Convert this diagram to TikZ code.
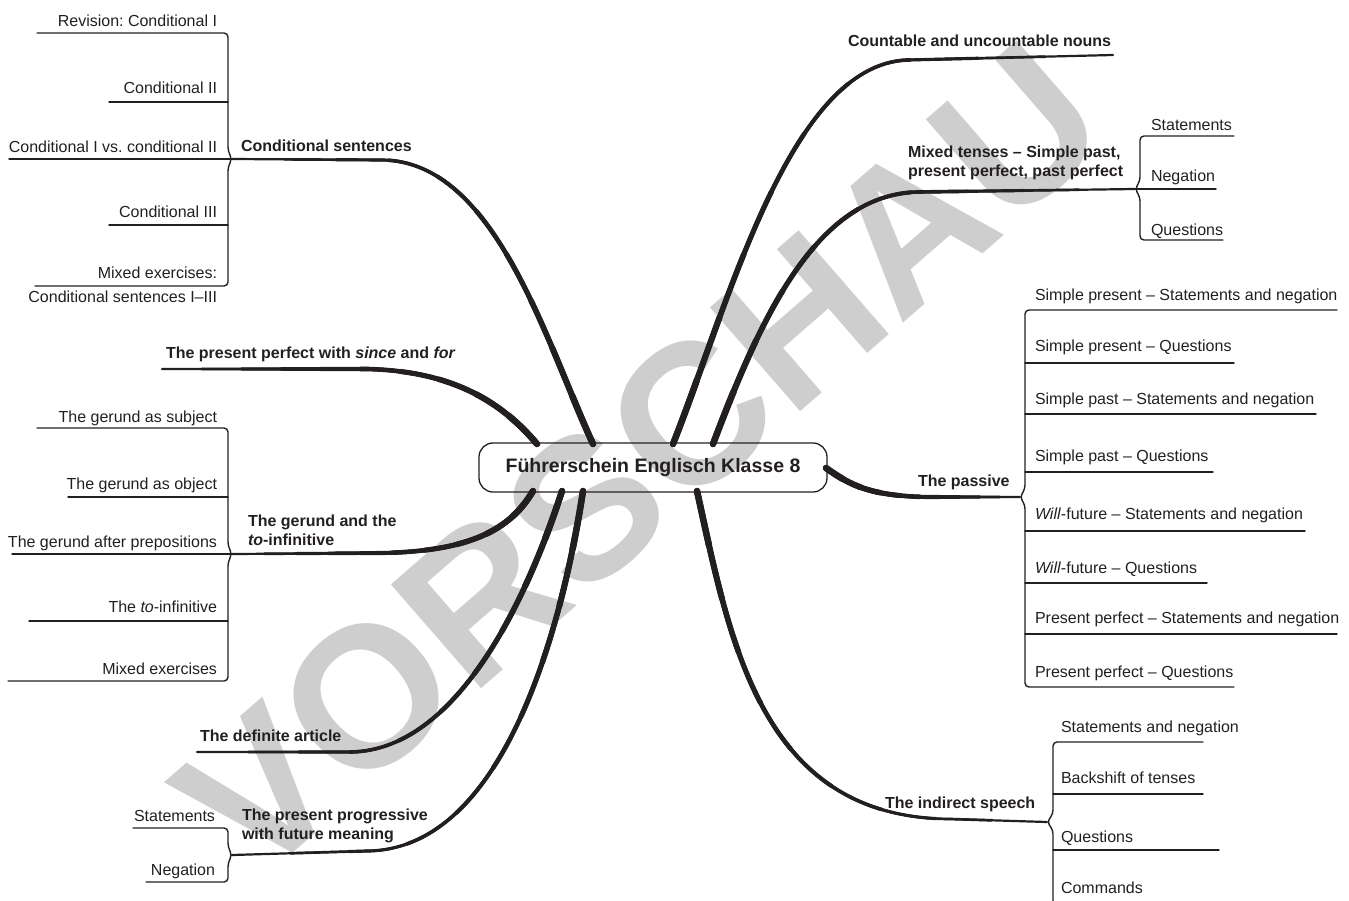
\documentclass[tikz,border=0pt]{standalone}
\usepackage{fontspec}
\setmainfont{Liberation Sans}
\frenchspacing
\usetikzlibrary{decorations.markings}
\definecolor{ink}{RGB}{35,31,32}
\definecolor{wmgray}{RGB}{206,206,206}
\newcommand{\branchline}[1]{%
  \path[decorate, decoration={markings, mark=at position 0.5 with {\xdef\blen{\pgfdecoratedpathlength}}}] #1;
  \foreach \k in {0,...,9}{%
    \pgfmathsetmacro\bw{2.2+\k*0.48}%
    \pgfmathsetmacro\bl{\blen*(1-\k/10)}%
    \draw[ink, line cap=round, line width=\bw pt, dash pattern=on \bl pt off 10000pt] #1;
  }%
}
\begin{document}
\begin{tikzpicture}[x=1pt,y=-1pt,
  every node/.style={inner sep=0pt, outer sep=0pt, text=ink, font=\fontsize{16}{19}\selectfont},
  topic/.style={font=\fontsize{16}{19}\selectfont\bfseries, align=left},
  sub/.style={line width=1.4pt, draw=ink, line cap=round},
  brace/.style={sub, rounded corners=4pt}
]
\useasboundingbox (0,0) rectangle (1349,900);

% watermark
\node[font=\fontsize{200}{200}\selectfont\bfseries, text=wmgray, rotate=41] (wm) at (640,460) {VORSCHAU};

% hub
\node[draw=ink, line width=1.3pt, rounded corners=14pt, minimum width=348pt, minimum height=49pt,
      font=\fontsize{19.5}{23}\selectfont\bfseries] (hub) at (653,467.5) {Führerschein Englisch Klasse 8};

% branch start points on the hub border and tips
\coordinate (sCond) at (593,444);
\coordinate (sPP)   at (537,444);
\coordinate (sGer)  at (533,491);
\coordinate (sDef)  at (562,491);
\coordinate (sProg) at (583,491);
\coordinate (sCnt)  at (673,444);
\coordinate (sMix)  at (713,444);
\coordinate (sPas)  at (826,468);
\coordinate (sInd)  at (697,491);

\coordinate (tCond) at (232,159);
\coordinate (tPP)   at (162,369);
\coordinate (tGer)  at (232,554);
\coordinate (tDef)  at (197,752);
\coordinate (tProg) at (232,855);
\coordinate (tCnt)  at (1113,55);
\coordinate (tMix)  at (1135,189);
\coordinate (tPas)  at (1020,497);
\coordinate (tInd)  at (1047,822);

% main branches
\branchline{(sCond) .. controls (545,340) and (495,162) .. (383,160) -- (tCond)}
\branchline{(sPP)   .. controls (500,400) and (450,371) .. (367,369) -- (tPP)}
\branchline{(sGer)  .. controls (510,530) and (470,551) .. (383,553) -- (tGer)}
\branchline{(sDef)  .. controls (530,590) and (460,751) .. (350,752) -- (tDef)}
\branchline{(sProg) .. controls (560,640) and (500,850) .. (367,851) -- (tProg)}
\branchline{(sCnt)  .. controls (730,300) and (790,65) .. (907,60) -- (tCnt)}
\branchline{(sMix)  .. controls (760,320) and (815,195) .. (917,192) -- (tMix)}
\branchline{(sPas)  .. controls (850,485) and (870,496) .. (927,497) -- (tPas)}
\branchline{(sInd)  .. controls (730,640) and (760,818) .. (950,819) -- (tInd)}

% topic labels
\node[topic, anchor=base west] (cond) at (241,151) {Conditional sentences};
\node[topic, anchor=base west] (pp) at (166,358) {The present perfect with \textit{since} and \textit{for}};
\node[topic, anchor=north west] (ger) at (248,515.3) {The gerund and the\\\textit{to}-infinitive};
\node[topic, anchor=base west] (def) at (200,741) {The definite article};
\node[topic, anchor=north west] (prog) at (242,809.3) {The present progressive\\with future meaning};
\node[topic, anchor=base west] (cnt) at (848,46) {Countable and uncountable nouns};
\node[topic, anchor=north west] (mix) at (908,146.3) {Mixed tenses – Simple past,\\present perfect, past perfect};
\node[topic, anchor=base west] (pas) at (918,486) {The passive};
\node[topic, anchor=base west] (ind) at (885,808) {The indirect speech};

% conditional sentences
\draw[brace] (37,33) -- (228,33) -- (228,151) -- (tCond) -- (228,167) -- (228,286) -- (35,286);
\draw[sub] (109,102) -- (228,102);
\draw[sub] (9,159) -- (tCond);
\draw[sub] (109,225) -- (228,225);
\node[anchor=base east] (c1) at (217,26) {Revision: Conditional I};
\node[anchor=base east] (c2) at (217,93) {Conditional II};
\node[anchor=base east] (c3) at (217,152) {Conditional I vs. conditional II};
\node[anchor=base east] (c4) at (217,217) {Conditional III};
\node[anchor=base east] (c5) at (217,278) {Mixed exercises:};
\node[anchor=base east] (c5b) at (217,302) {Conditional sentences I–III};

% gerund
\draw[brace] (37,428) -- (228,428) -- (228,546) -- (tGer) -- (228,562) -- (228,681) -- (8,681);
\draw[sub] (68,497) -- (228,497);
\draw[sub] (12,554) -- (tGer);
\draw[sub] (29,621) -- (228,621);
\node[anchor=base east] (g1) at (217,422) {The gerund as subject};
\node[anchor=base east] (g2) at (217,489) {The gerund as object};
\node[anchor=base east] (g3) at (217,547) {The gerund after prepositions};
\node[anchor=base east] (g4) at (217,612) {The \textit{to}-infinitive};
\node[anchor=base east] (g5) at (217,674) {Mixed exercises};

% present progressive
\draw[brace] (133,828) -- (228,828) -- (228,847) -- (tProg) -- (228,863) -- (228,882) -- (146,882);
\node[anchor=base east] (pr1) at (215,821) {Statements};
\node[anchor=base east] (pr2) at (215,875) {Negation};

% mixed tenses
\draw[brace] (1234,136) -- (1140,136) -- (1140,181) -- (tMix) -- (1140,197) -- (1140,240) -- (1223,240);
\draw[sub] (tMix) -- (1216,189);
\node[anchor=base west] (m1) at (1151,130) {Statements};
\node[anchor=base west] (m2) at (1151,181) {Negation};
\node[anchor=base west] (m3) at (1151,235) {Questions};

% passive
\draw[brace] (1337,310) -- (1025,310) -- (1025,489) -- (tPas) -- (1025,505) -- (1025,687) -- (1234,687);
\draw[sub] (1025,363) -- (1234,363);
\draw[sub] (1025,414) -- (1316,414);
\draw[sub] (1025,472) -- (1213,472);
\draw[sub] (1025,531) -- (1305,531);
\draw[sub] (1025,583) -- (1207,583);
\draw[sub] (1025,634) -- (1337,634);
\node[anchor=base west] (p1) at (1035,300) {Simple present – Statements and negation};
\node[anchor=base west] (p2) at (1035,351) {Simple present – Questions};
\node[anchor=base west] (p3) at (1035,404) {Simple past – Statements and negation};
\node[anchor=base west] (p4) at (1035,461) {Simple past – Questions};
\node[anchor=base west] (p5) at (1035,519) {\textit{Will}-future – Statements and negation};
\node[anchor=base west] (p6) at (1035,573) {\textit{Will}-future – Questions};
\node[anchor=base west] (p7) at (1035,623) {Present perfect – Statements and negation};
\node[anchor=base west] (p8) at (1035,677) {Present perfect – Questions};

% indirect speech
\draw[brace] (1203,742) -- (1053,742) -- (1053,814) -- (tInd) -- (1053,830) -- (1053,905) -- (1180,905);
\draw[sub] (1053,794) -- (1203,794);
\draw[sub] (1053,850) -- (1219,850);
\node[anchor=base west] (i1) at (1061,732) {Statements and negation};
\node[anchor=base west] (i2) at (1061,783) {Backshift of tenses};
\node[anchor=base west] (i3) at (1061,842) {Questions};
\node[anchor=base west] (i4) at (1061,893) {Commands};
\end{tikzpicture}
\end{document}
